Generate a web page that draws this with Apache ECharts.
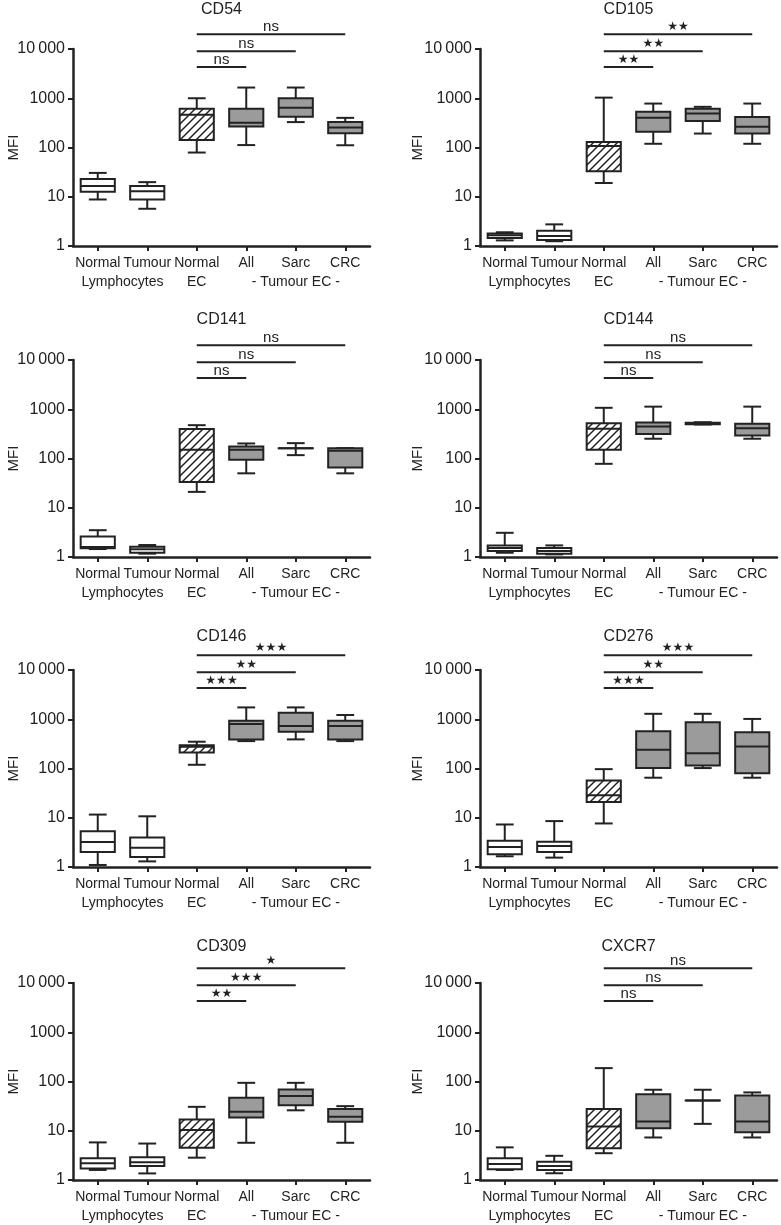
<!DOCTYPE html>
<html><head><meta charset="utf-8">
<script src="https://cdn.jsdelivr.net/npm/echarts@6/dist/echarts.min.js"></script>
<style>html,body{margin:0;padding:0;background:#fff}#c{width:781px;height:1225px}</style>
</head><body><div id="c"></div>
<script>
// ---------- DATA ----------
const categories = ['Normal', 'Tumour', 'Normal', 'All', 'Sarc', 'CRC'];
const groupNames = ['Lymphocytes', 'EC', '- Tumour EC -'];
const groupSpans = [[0, 1], [2, 2], [3, 5]];
const markers = ['CD54', 'CD105', 'CD141', 'CD144', 'CD146', 'CD276', 'CD309', 'CXCR7'];
const yTickLabels = ['1', '10', '100', '1000', '10\u2009000'];
const yAxisName = 'MFI';

// each row: [min, Q1, median, Q3, max]
const cd54 = [[8.8, 12.6, 16.5, 23, 30.5], [5.7, 8.8, 13, 16.5, 19.8], [79, 142, 460, 613, 1000], [112, 266, 319, 613, 1650], [328, 422, 640, 1000, 1650], [111, 194, 255, 328, 400]];
const cd105 = [[1.3, 1.45, 1.65, 1.8, 1.9], [1.25, 1.32, 1.6, 2.05, 2.75], [19, 33, 107, 130, 1030], [119, 208, 400, 530, 780], [192, 346, 490, 610, 670], [119, 192, 265, 418, 780]];
const cd141 = [[1.45, 1.5, 1.6, 2.6, 3.5], [1.17, 1.22, 1.43, 1.62, 1.75], [21, 33.5, 150, 395, 475], [50, 94, 150, 175, 202], [117, 162, 162, 162, 205], [50, 66, 143, 162, 162]];
const cd144 = [[1.22, 1.32, 1.52, 1.72, 3.1], [1.13, 1.17, 1.32, 1.52, 1.72], [78, 150, 400, 520, 1070], [252, 316, 445, 540, 1130], [490, 495, 515, 535, 545], [252, 293, 412, 505, 1130]];
const cd146 = [[1.1, 2.02, 3.2, 5.3, 11.6], [1.3, 1.6, 2.47, 3.95, 10.7], [119, 211, 275, 298, 350], [360, 390, 800, 935, 1740], [390, 557, 730, 1360, 1740], [360, 390, 730, 935, 1220]];
const cd276 = [[1.65, 1.81, 2.56, 3.4, 7.3], [1.55, 2.02, 2.68, 3.24, 8.55], [7.66, 21, 28.6, 57, 97], [65, 102, 240, 570, 1290], [102, 115, 205, 870, 1290], [65, 80, 280, 543, 1015]];
const cd309 = [[1.6, 1.72, 2.18, 2.75, 5.8], [1.36, 1.92, 2.28, 2.88, 5.5], [2.84, 4.52, 10.3, 17, 30.6], [5.7, 18.6, 24.3, 47, 94], [26, 33, 51, 69, 94], [5.7, 15.2, 19.2, 27.5, 31.6]];
const cxcr7 = [[1.6, 1.65, 2.12, 2.76, 4.6], [1.37, 1.6, 1.93, 2.36, 3.1], [3.5, 4.4, 12.2, 27.8, 187], [7.3, 11.2, 15.4, 55, 68], [13.8, 41, 41, 41, 68], [7.3, 9.3, 15.4, 52, 60]];

// significance vs Normal EC: [All, Sarc, CRC]
const sigFrom = 2;
const sigTargets = [3, 4, 5];
const sigLevels = [4300, 9000, 20000];
const sig54 = ['ns', 'ns', 'ns'];
const sig105 = ['**', '**', '**'];
const sig141 = ['ns', 'ns', 'ns'];
const sig144 = ['ns', 'ns', 'ns'];
const sig146 = ['***', '**', '***'];
const sig276 = ['***', '**', '***'];
const sig309 = ['**', '***', '*'];
const sigX7 = ['ns', 'ns', 'ns'];

const panelBoxes = [cd54, cd105, cd141, cd144, cd146, cd276, cd309, cxcr7];
const panelSigs = [sig54, sig105, sig141, sig144, sig146, sig276, sig309, sigX7];

// ---------- LAYOUT / STYLE ----------
const FONT = '"Liberation Sans", Arial, Helvetica, sans-serif';
const INK = '#222';
const gridLefts = [73, 480];
const gridTops = [49, 360, 670, 983];
const titleYs = [10, 320, 637, 947];
const nameOffsets = [59, 62];
const GW = 297, GH = 197;

function makeHatch() {
  const s = 8;
  const c = document.createElement('canvas');
  c.width = s; c.height = s;
  const g = c.getContext('2d');
  g.fillStyle = '#fff'; g.fillRect(0, 0, s, s);
  g.strokeStyle = '#222'; g.lineWidth = 1.5; g.lineCap = 'square';
  g.beginPath();
  g.moveTo(0, s); g.lineTo(s, 0);
  g.moveTo(-s / 2, s / 2); g.lineTo(s / 2, -s / 2);
  g.moveTo(s / 2, s * 1.5); g.lineTo(s * 1.5, s / 2);
  g.stroke();
  return c;
}
const hatch = makeHatch();

function renderBox(params, api) {
  const x = api.value(0);
  const pMin = api.coord([x, api.value(1)]);
  const pQ1 = api.coord([x, api.value(2)]);
  const pMed = api.coord([x, api.value(3)]);
  const pQ3 = api.coord([x, api.value(4)]);
  const pMax = api.coord([x, api.value(5)]);
  const band = api.size([1, 1])[0];
  const bw = band * 0.69, cw = band * 0.36;
  const cx = pMin[0];
  const fill = x < 2 ? '#ffffff' : (x === 2 ? { image: hatch, repeat: 'repeat' } : '#9b9b9b');
  const ls = { stroke: INK, lineWidth: 2 };
  return {
    type: 'group', children: [
      { type: 'line', shape: { x1: cx, y1: pQ1[1], x2: cx, y2: pMin[1] }, style: ls },
      { type: 'line', shape: { x1: cx, y1: pQ3[1], x2: cx, y2: pMax[1] }, style: ls },
      { type: 'line', shape: { x1: cx - cw / 2, y1: pMin[1], x2: cx + cw / 2, y2: pMin[1] }, style: ls },
      { type: 'line', shape: { x1: cx - cw / 2, y1: pMax[1], x2: cx + cw / 2, y2: pMax[1] }, style: ls },
      { type: 'rect', shape: { x: cx - bw / 2, y: pQ3[1], width: bw, height: Math.max(pQ1[1] - pQ3[1], 0.01) }, style: { fill: fill, stroke: INK, lineWidth: 2 } },
      { type: 'line', shape: { x1: cx - bw / 2, y1: pMed[1], x2: cx + bw / 2, y2: pMed[1] }, style: ls }
    ]
  };
}

function makeSigRender(labels) {
  return function (params, api) {
    const p1 = api.coord([api.value(0), api.value(1)]);
    const p2 = api.coord([api.value(2), api.value(1)]);
    const lab = labels[params.dataIndex];
    const isStar = lab.indexOf('*') >= 0;
    const txt = isStar ? lab.replace(/\*/g, '\u2605') : lab;
    return {
      type: 'group', children: [
        { type: 'line', shape: { x1: p1[0], y1: p1[1], x2: p2[0], y2: p2[1] }, style: { stroke: INK, lineWidth: 2 } },
        {
          type: 'text', x: (p1[0] + p2[0]) / 2, y: p1[1] - (isStar ? 1 : 0),
          style: {
            text: txt, align: 'center', verticalAlign: 'bottom', fill: INK,
            font: isStar ? '12px "DejaVu Sans", sans-serif' : '15px ' + FONT
          }
        }
      ]
    };
  };
}

function renderGroup(params, api) {
  const a = api.coord([api.value(0), 1]);
  const b = api.coord([api.value(1), 1]);
  return {
    type: 'text', x: (a[0] + b[0]) / 2, y: a[1] + 36,
    style: { text: groupNames[params.dataIndex], align: 'center', verticalAlign: 'middle', fill: INK, font: '14px ' + FONT }
  };
}

const grids = [], xAxes = [], yAxes = [], series = [], graphics = [];
markers.forEach(function (m, i) {
  const col = i % 2, row = Math.floor(i / 2);
  const left = gridLefts[col], top = gridTops[row];
  grids.push({ left: left, top: top, width: GW, height: GH, containLabel: false });
  xAxes.push({
    type: 'category', gridIndex: i, data: categories,
    axisLine: { show: true, lineStyle: { color: INK, width: 2.5 } },
    axisTick: { show: true, alignWithLabel: true, length: 5, lineStyle: { color: INK, width: 2 } },
    axisLabel: { interval: 0, fontSize: 14, fontFamily: FONT, color: INK, margin: 10 },
    splitLine: { show: false }
  });
  yAxes.push({
    type: 'log', logBase: 10, min: 1, max: 10000, gridIndex: i,
    axisLine: { show: true, lineStyle: { color: INK, width: 2.5 } },
    axisTick: { show: true, length: 5, lineStyle: { color: INK, width: 2 } },
    axisLabel: {
      fontSize: 16, fontFamily: FONT, color: INK, margin: 8,
      formatter: function (v) { const k = Math.round(Math.log10(v)); return yTickLabels[k] !== undefined ? yTickLabels[k] : String(v); }
    },
    splitLine: { show: false }, minorTick: { show: false }
  });
  series.push({
    type: 'custom', xAxisIndex: i, yAxisIndex: i, clip: false,
    renderItem: renderBox,
    encode: { x: 0, y: [1, 2, 3, 4, 5] },
    data: panelBoxes[i].map(function (b, j) { return [j].concat(b); }),
    silent: true, animation: false
  });
  series.push({
    type: 'custom', xAxisIndex: i, yAxisIndex: i, clip: false,
    renderItem: makeSigRender(panelSigs[i]),
    encode: { x: 0, y: 1 },
    data: panelSigs[i].map(function (s, k) { return [sigFrom, sigLevels[k], sigTargets[k]]; }),
    silent: true, animation: false
  });
  series.push({
    type: 'custom', xAxisIndex: i, yAxisIndex: i, clip: false,
    renderItem: renderGroup,
    encode: { x: 0 },
    data: groupSpans.map(function (g) { return [g[0], g[1]]; }),
    silent: true, animation: false
  });
  graphics.push({
    type: 'text', x: left + GW / 2, y: titleYs[row],
    style: { text: m, align: 'center', verticalAlign: 'middle', fill: INK, font: '16px ' + FONT }
  });
  graphics.push({
    type: 'text', x: left - nameOffsets[col], y: top + GH / 2, rotation: Math.PI / 2,
    style: { text: yAxisName, align: 'center', verticalAlign: 'middle', fill: INK, font: '15px ' + FONT }
  });
});

const chart = echarts.init(document.getElementById('c'), null, { renderer: 'canvas' });
chart.setOption({
  animation: false,
  backgroundColor: '#ffffff',
  grid: grids, xAxis: xAxes, yAxis: yAxes, series: series, graphic: graphics
});
</script></body></html>
